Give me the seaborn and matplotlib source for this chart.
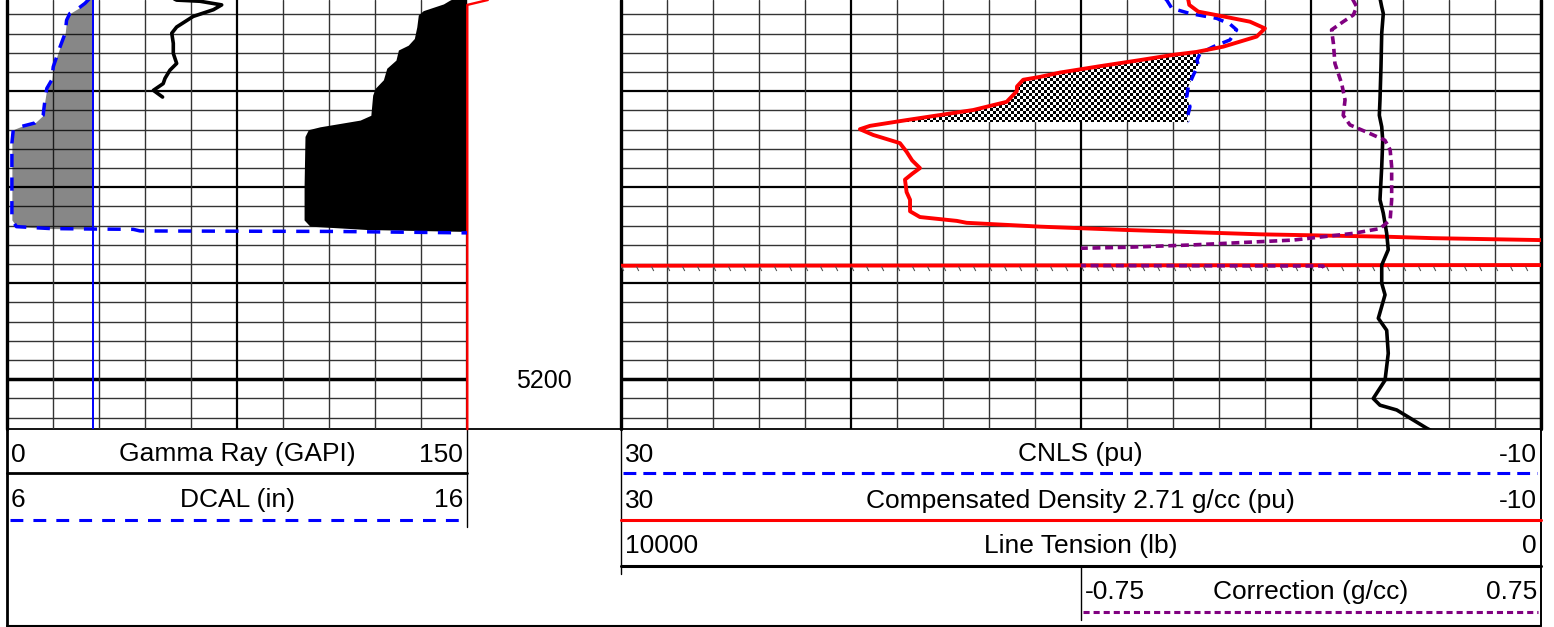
import numpy as np
import matplotlib
matplotlib.use('Agg')
import matplotlib.pyplot as plt
from matplotlib.colors import ListedColormap
from matplotlib.path import Path
import seaborn as sns

# depth window shown (ft)
top_depth = 5160.49
bottom_depth = 5205.15

# track 1: gamma ray 0..150 GAPI, caliper 6..16 in
gr_depth = [5160.3, 5160.5, 5160.62, 5161.0, 5161.5, 5162.2, 5163.3, 5163.95, 5165.0,
            5166.05, 5167.1, 5167.8, 5168.65, 5169.2, 5169.9, 5170.6]
gr_gapi = [54.0, 55.3, 62.9, 70.0, 67.3, 60.7, 55.3, 53.7, 54.2,
           54.2, 55.3, 53.1, 51.5, 50.9, 47.7, 50.7]

shade_depth = [5160.3, 5160.5, 5160.9, 5161.6, 5162.05, 5163.3, 5164.5, 5165.2, 5165.7,
               5166.75, 5167.6, 5168.8, 5169.7, 5170.4, 5172.5, 5173.0, 5173.7, 5174.0,
               5174.7, 5179.9, 5183.4, 5184.05, 5184.4, 5184.6]
shade_gapi = [146.0, 144.5, 142.4, 135.8, 134.2, 133.7, 132.9, 130.9, 127.7,
              126.9, 123.9, 122.8, 120.1, 119.3, 118.7, 115.2, 102.1, 98.3,
              97.2, 96.9, 96.9, 98.8, 117.4, 150.0]

red_depth = [5160.49, 5161.0, 5205.2]
red_gapi = [156.9, 150.2, 150.2]

dcal_depth = [5160.3, 5160.84, 5161.35, 5161.9, 5162.6, 5163.95, 5165.35, 5167.45, 5168.8,
              5169.7, 5170.9, 5172.5, 5173.3, 5173.7, 5174.0, 5175.4, 5179.6, 5183.4,
              5184.1, 5184.3, 5184.35, 5184.38, 5184.55, 5184.6, 5184.75, 5184.8]
dcal_in = [7.8, 7.69, 7.55, 7.36, 7.29, 7.26, 7.15, 7.0, 6.97,
           6.86, 6.82, 6.78, 6.6, 6.28, 6.13, 6.1, 6.1, 6.1,
           6.2, 6.93, 7.87, 8.74, 8.89, 13.1, 16.0, 16.5]
bit_size = 7.875

# track 3: porosity 30..-10 pu, tension 10000..0 lb, correction -0.75..0.75 g/cc
dens_depth = [5160.3, 5160.5, 5161.0, 5161.7, 5162.2, 5162.75, 5163.45, 5164.3, 5165.35,
              5165.9, 5166.2, 5166.75, 5167.4, 5168.05, 5168.5, 5168.8, 5169.5, 5170.0,
              5171.1, 5171.95, 5173.0, 5173.6, 5173.95, 5174.55, 5175.4, 5176.3, 5177.2,
              5178.0, 5178.6, 5179.2, 5180.5, 5181.3, 5182.5, 5183.1, 5183.5, 5183.7,
              5184.1, 5184.45, 5184.9, 5185.15, 5185.3, 5185.5, 5185.6, 5188.1, 5188.2, 5205.4]
dens_pu = [5.35, 5.32, 5.28, 4.89, 3.80, 2.64, 1.99, 2.35, 3.80,
           4.96, 5.97, 7.42, 9.2, 10.9, 11.77, 12.5, 12.77, 12.78,
           13.22, 14.67, 17.57, 19.16, 19.6, 19.02, 17.86, 17.57, 17.33,
           16.99, 17.33, 17.64, 17.57, 17.42, 17.42, 16.99, 15.39, 14.96,
           11.77, 8.0, 2.2, -3.3, -5.32, -9.97, -10.8, -12.0, 45.0, 45.0]

cnls_depth = [5160.3, 5160.5, 5161.35, 5161.9, 5162.4, 5163.0, 5163.6, 5164.65, 5165.35,
              5166.05, 5166.75, 5167.25, 5168.3, 5169.5, 5170.6, 5171.6, 5172.4, 5173.0, 5173.2]
cnls_pu = [6.35, 6.26, 6.04, 5.25, 4.09, 3.51, 3.22, 3.51, 4.23,
           4.81, 4.94, 4.89, 5.10, 5.32, 5.39, 5.25, 5.33, 5.39, 5.3]

tens_depth = [5160.3, 5161.2, 5161.9, 5163.95, 5167.45, 5170.9, 5172.5, 5173.7, 5175.1,
              5177.85, 5181.3, 5182.7, 5184.8, 5186.5, 5188.1, 5190.0, 5191.2, 5193.65,
              5194.9, 5197.3, 5200.1, 5202.0, 5202.7, 5203.2, 5205.1, 5205.4]
tens_lb = [1747, 1728, 1711, 1728, 1736, 1747, 1754, 1728, 1717,
           1728, 1747, 1711, 1674, 1657, 1728, 1728, 1692, 1765,
           1674, 1657, 1692, 1820, 1747, 1565, 1239, 1180]

corr_depth = [5160.3, 5161.2, 5162.05, 5162.75, 5163.6, 5165.0, 5167.1, 5169.2, 5170.9,
              5172.5, 5173.5, 5174.4, 5175.1, 5176.1, 5177.85, 5181.3, 5183.4, 5184.3,
              5184.8, 5185.5, 5186.0, 5186.25, 5186.35, 5186.5, 5188.15, 5188.2, 5188.4]
corr_gcc = [0.135, 0.15, 0.139, 0.106, 0.068, 0.074, 0.079, 0.101, 0.112,
            0.106, 0.128, 0.193, 0.242, 0.259, 0.264, 0.264, 0.259, 0.226,
            0.139, -0.057, -0.383, -0.60, -0.75, -0.82, -0.82, 0.04, 0.043]

W, H = 1554, 627
TRACK_BOTTOM = 428.7

sns.set_style('white')
plt.rcParams['font.family'] = ['Liberation Sans', 'DejaVu Sans']
plt.rcParams['text.color'] = 'black'

fig = plt.figure(figsize=(W / 100, H / 100), dpi=100)
hdr = fig.add_axes([0, 0, 1, 1])
hdr.set_xlim(0, W)
hdr.set_ylim(H, 0)
hdr.axis('off')


def track_axes(x0, x1, xlim):
    ax = fig.add_axes([x0 / W, 1 - TRACK_BOTTOM / H, (x1 - x0) / W, TRACK_BOTTOM / H])
    ax.set_xlim(*xlim)
    ax.set_ylim(bottom_depth, top_depth)
    ax.axis('off')
    return ax


def grid(ax, xvals, major):
    for d in np.arange(5162, 5205, 2):
        if d == 5200:
            ax.axhline(d, color='black', linewidth=2.5, zorder=0.5)
        elif d % 10 == 0:
            ax.axhline(d, color='black', linewidth=1.6, zorder=0.5)
        else:
            ax.axhline(d, color='#333333', linewidth=1.0, zorder=0.5)
    for i, v in enumerate(xvals):
        if i % major == 0:
            ax.axvline(v, color='black', linewidth=1.6, zorder=0.5)
        else:
            ax.axvline(v, color='#333333', linewidth=1.0, zorder=0.5)


def log_line(ax, values, depth, **kw):
    sns.lineplot(x=values, y=depth, orient='y', sort=False, estimator=None,
                 legend=False, ax=ax, **kw)


# ---- track 1
ax1 = track_axes(7.3, 466.7, (0, 150))
grid(ax1, np.linspace(0, 150, 11), 5)
ax1.axvline(0, color='black', linewidth=2.4, clip_on=False)
ax1.fill_betweenx(shade_depth, shade_gapi, 150, color='black', linewidth=0, zorder=1)
log_line(ax1, gr_gapi, gr_depth, color='black', linewidth=2.6, zorder=3)
log_line(ax1, red_gapi, red_depth, color='red', linewidth=1.7, zorder=3, clip_on=False)

ax1b = track_axes(7.3, 466.7, (6, 16))
ax1b.fill_betweenx(dcal_depth, dcal_in, bit_size, where=np.array(dcal_in) < bit_size,
                   interpolate=True, color='black', alpha=0.47, linewidth=0)
ax1b.axvline(bit_size, color='blue', linewidth=1.4)
log_line(ax1b, dcal_in, dcal_depth, color='blue', linewidth=2.5, linestyle=(0, (3.8, 3.0)))

# ---- depth track
axd = track_axes(466.7, 620.7, (0, 1))
axd.text(0.5, 5200.95, '5200', ha='center', va='baseline', fontsize=18)

# ---- track 3
ax3 = track_axes(620.7, 1540.7, (30, -10))
grid(ax3, np.linspace(30, -10, 21), 5)
ax3.axvline(30, color='black', linewidth=2.4, clip_on=False)
ax3.axvline(-10, color='black', linewidth=2.4, clip_on=False)

# checkered crossover fill between density and neutron
checker = np.add.outer(np.arange(143), np.arange(307)) % 2
im = ax3.imshow(checker, cmap=ListedColormap(['white', 'black']), aspect='auto',
                extent=(30, -10, bottom_depth, top_depth), interpolation='nearest', zorder=1)
fill_d = np.union1d(dens_depth, cnls_depth)
fill_d = fill_d[(fill_d >= cnls_depth[0]) & (fill_d <= cnls_depth[-1])]
red_i = np.interp(fill_d, dens_depth, dens_pu)
blue_i = np.interp(fill_d, cnls_depth, cnls_pu)
poly = ax3.fill_betweenx(fill_d, red_i, blue_i, where=red_i > blue_i, interpolate=True,
                         facecolor='none', edgecolor='none')
im.set_clip_path(Path.make_compound_path(*poly.get_paths()), ax3.transData)
ax3.set_xlim(30, -10)
ax3.set_ylim(bottom_depth, top_depth)

log_line(ax3, cnls_pu, cnls_depth, color='blue', linewidth=2.5, linestyle=(0, (3.0, 2.2)), zorder=3)
log_line(ax3, dens_pu, dens_depth, color='red', linewidth=2.8, zorder=4)
tick_pu = np.arange(30, -10, -2 / 3)
ax3.plot(tick_pu, np.full(len(tick_pu), 5188.17), ls='none', marker=[(0, 0), (0.5, -1)],
         ms=6.5, mec='#555555', mew=0.8, zorder=4)

axt = track_axes(620.7, 1540.7, (10000, 0))
log_line(axt, tens_lb, tens_depth, color='black', linewidth=2.6)

axc = track_axes(1080.7, 1540.7, (-0.75, 0.75))
log_line(axc, corr_gcc, corr_depth, color='#800080', linewidth=2.6, linestyle=(0, (2.2, 1.3)))

# ---- header
def hline(y, x0, x1, **kw):
    hdr.plot([x0, x1], [y, y], **kw)


def vline(x, y0, y1, **kw):
    hdr.plot([x, x], [y0, y1], **kw)


hline(TRACK_BOTTOM, 7, 1541, color='black', linewidth=1.3)
vline(7.3, TRACK_BOTTOM, 625.7, color='black', linewidth=2)
vline(1540.7, TRACK_BOTTOM, 625.7, color='black', linewidth=1.4)
hline(625.7, 7, 1541, color='black', linewidth=1.5)

hline(472.5, 7, 467, color='black', linewidth=2)
vline(467, TRACK_BOTTOM, 527, color='black', linewidth=1)
hline(519.5, 10, 463, color='blue', linewidth=2.2, linestyle=(0, (4.2, 3.3)))

vline(621, TRACK_BOTTOM, 573.5, color='black', linewidth=1)
hline(473.3, 623, 1537, color='blue', linewidth=2.2, linestyle=(0, (4.2, 2.3)))
hline(519.5, 621, 1541, color='red', linewidth=2.2)
hline(565.5, 621, 1541, color='black', linewidth=2.2)
vline(1080.7, 565.5, 620, color='black', linewidth=1)
hline(611.5, 1083, 1538, color='#800080', linewidth=2.2, linestyle=(0, (2.0, 1.3)))

rows = [
    (11, 237, 463, 461.5, '0', 'Gamma Ray (GAPI)', '150'),
    (11, 237, 463, 507, '6', 'DCAL (in)', '16'),
    (625, 1080.7, 1537, 461.5, '30', 'CNLS (pu)', '-10'),
    (625, 1080.7, 1537, 508, '30', 'Compensated Density 2.71 g/cc (pu)', '-10'),
    (625, 1080.7, 1537, 553, '10000', 'Line Tension (lb)', '0'),
    (1085, 1310.7, 1537, 599, '-0.75', 'Correction (g/cc)', '0.75'),
]
for xl, xc, xr, yb, lo, name, hi in rows:
    hdr.text(xl, yb, lo, ha='left', va='baseline', fontsize=19, color='black')
    hdr.text(xc, yb, name, ha='center', va='baseline', fontsize=19, color='black')
    hdr.text(xr, yb, hi, ha='right', va='baseline', fontsize=19, color='black')

plt.savefig('out.png', dpi=100)
